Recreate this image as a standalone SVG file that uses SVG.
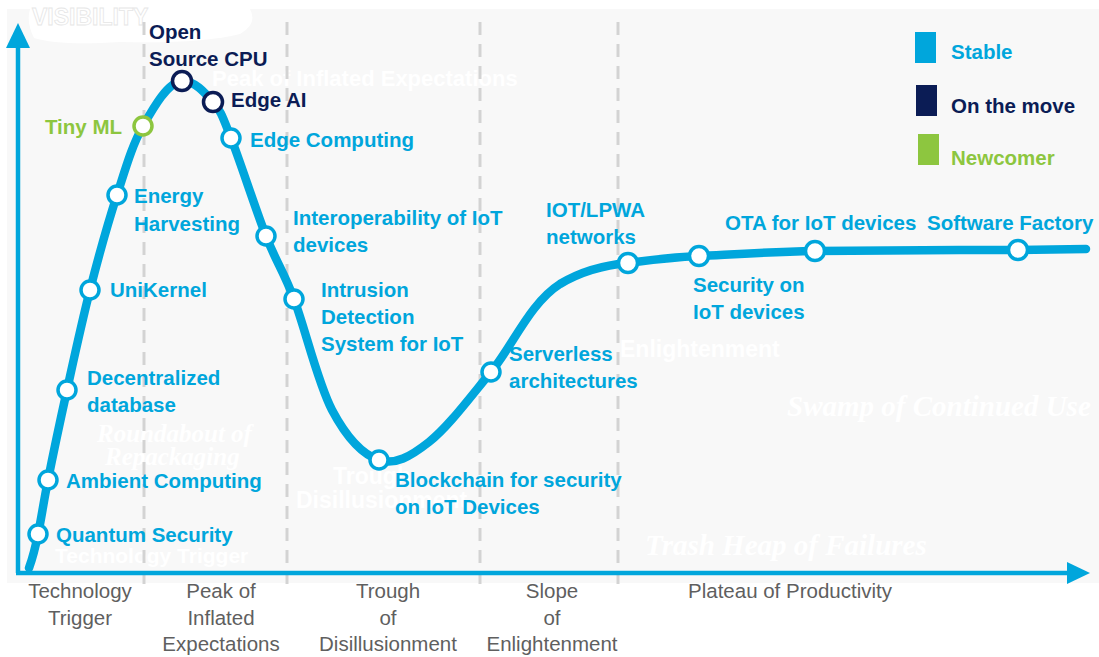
<svg xmlns="http://www.w3.org/2000/svg" width="1099" height="657" viewBox="0 0 1099 657">
  <defs>
    <style>
      .lbl{font-family:"Liberation Sans",Arial,sans-serif;font-weight:bold;font-size:20.5px}
      .s{fill:#00a6dc}
      .m{fill:#0b1c55}
      .n{fill:#8dc63f}
      .dot{fill:#ffffff;stroke-width:3.5}
      .ds{stroke:#00a6dc}
      .dm{stroke:#0b1c55}
      .dn{stroke:#8dc63f}
      .phase{font-family:"Liberation Sans",Arial,sans-serif;font-size:20.5px;fill:#5f5f5f;text-anchor:middle}
      .wm{font-family:"Liberation Sans",Arial,sans-serif;font-weight:bold;fill:#ffffff}
      .wms{font-family:"Liberation Serif","Times New Roman",serif;font-weight:bold;font-style:italic;fill:#ffffff}
      .dash{stroke:#d3d3d3;stroke-width:3;stroke-dasharray:13 9}
    </style>
  </defs>
  <rect x="0" y="0" width="1099" height="657" fill="#ffffff"/>
  <rect x="7" y="9" width="1092" height="574" fill="#f8f8f8"/>

  <g id="watermarks">
    <path d="M30 9 H250 Q258 24 240 34 Q200 44 120 42 Q60 46 34 38 Q26 22 30 9 Z" fill="#ffffff"/>
    <text class="wm" x="32" y="25" font-size="23" stroke="#e6e6e6" stroke-width="0.8">VISIBILITY</text>
    <text class="wm" x="212" y="86" font-size="22">Peak of Inflated Expectations</text>
    <text class="wm" x="620" y="357" font-size="23">Enlightenment</text>
    <text class="wms" x="787" y="416" font-size="29">Swamp of Continued Use</text>
    <text class="wms" x="645" y="555" font-size="29">Trash Heap of Failures</text>
    <text class="wms" x="97" y="442" font-size="25">Roundabout of</text>
    <text class="wms" x="105" y="465" font-size="25">Repackaging</text>
    <text class="wm" x="333" y="484" font-size="23">Trough</text>
    <text class="wm" x="296" y="508" font-size="23">Disillusionment</text>
    <text class="wm" x="55" y="563" font-size="21">Technology Trigger</text>
  </g>

  <g id="gridlines">
    <line class="dash" x1="144" y1="22" x2="144" y2="584"/>
    <line class="dash" x1="287" y1="22" x2="287" y2="584"/>
    <line class="dash" x1="480" y1="22" x2="480" y2="584"/>
    <line class="dash" x1="618" y1="22" x2="618" y2="584"/>
  </g>

  <g id="axes">
    <path d="M18 573 V46 M16 573 H1070" fill="none" stroke="#00a6dc" stroke-width="4.5"/>
    <polygon points="18,23 30,48 6,48" fill="#00a6dc"/>
    <polygon points="1090,573 1067,562 1067,584" fill="#00a6dc"/>
  </g>

  <g id="phases">
    <text class="phase" x="80" y="598">Technology</text>
    <text class="phase" x="80" y="625">Trigger</text>
    <text class="phase" x="221" y="598">Peak of</text>
    <text class="phase" x="221" y="625">Inflated</text>
    <text class="phase" x="221" y="651">Expectations</text>
    <text class="phase" x="388" y="598">Trough</text>
    <text class="phase" x="388" y="625">of</text>
    <text class="phase" x="388" y="651">Disillusionment</text>
    <text class="phase" x="552" y="598">Slope</text>
    <text class="phase" x="552" y="625">of</text>
    <text class="phase" x="552" y="651">Enlightenment</text>
    <text class="phase" x="790" y="598">Plateau of Productivity</text>
  </g>

  <g id="connectors">
    <path id="hype-curve" fill="none" stroke="#00a6dc" stroke-width="8.5" stroke-linecap="round"
      d="M29 568 C31.3 561.7 35 549.5 38 534
         C41 520.5 43.2 504.2 48 480
         C52.8 455.8 60 421.7 67 390
         C74 358.3 81.7 322.5 90 290
         C98.3 257.5 108.2 222.3 117 195
         C125.8 167.7 132.2 145 143 126
         C153.8 107 168 82 182 81
         C194 80 204.8 92.5 213 102
         C221.2 111.5 222.2 115.7 231 138
         C239.8 160.3 255.5 209.2 266 236
         C276.5 262.8 283 270 294 299
         C305 328 317.8 383.2 332 410
         C346.2 436.8 362.8 454.7 379 460
         C395.2 465.3 410.3 456.7 429 442
         C447.7 427.3 469.2 398.5 491 372
         C512.8 345.5 530 303 560 284
         C580 272 605 265 628 263
         C651.2 260 667.8 257.5 699 256
         C730.2 254.5 761.8 252 815 251
         C880 250.5 950 250 1018 250
         L1086 249"/>
  </g>

  <g id="legend">
    <rect x="915" y="32" width="21" height="31" fill="#00a6dc"/>
    <text class="lbl s" x="951" y="59">Stable</text>
    <rect x="916" y="85" width="21" height="31" fill="#0b1c55"/>
    <text class="lbl m" x="951" y="113">On the move</text>
    <rect x="918" y="134" width="21" height="31" fill="#8dc63f"/>
    <text class="lbl n" x="951" y="165">Newcomer</text>
  </g>

  <g id="node-quantum-security">
    <circle class="dot ds" cx="38" cy="534" r="9"/>
    <text class="lbl s" x="56" y="542">Quantum Security</text>
  </g>
  <g id="node-ambient-computing">
    <circle class="dot ds" cx="48" cy="480" r="9"/>
    <text class="lbl s" x="66" y="488">Ambient Computing</text>
  </g>
  <g id="node-decentralized-database">
    <circle class="dot ds" cx="67" cy="390" r="9"/>
    <text class="lbl s" x="87" y="385">Decentralized</text>
    <text class="lbl s" x="87" y="412">database</text>
  </g>
  <g id="node-unikernel">
    <circle class="dot ds" cx="90" cy="290" r="9"/>
    <text class="lbl s" x="110" y="297">UniKernel</text>
  </g>
  <g id="node-energy-harvesting">
    <circle class="dot ds" cx="117" cy="195" r="9"/>
    <text class="lbl s" x="134" y="203">Energy</text>
    <text class="lbl s" x="134" y="231">Harvesting</text>
  </g>
  <g id="node-tiny-ml">
    <circle class="dot dn" cx="143" cy="126" r="9"/>
    <text class="lbl n" x="122" y="134" text-anchor="end">Tiny ML</text>
  </g>
  <g id="node-open-source-cpu">
    <circle class="dot dm" cx="182" cy="81" r="9.5"/>
    <text class="lbl m" x="149" y="39">Open</text>
    <text class="lbl m" x="149" y="66">Source CPU</text>
  </g>
  <g id="node-edge-ai">
    <circle class="dot dm" cx="213" cy="102" r="9.5"/>
    <text class="lbl m" x="231" y="107">Edge AI</text>
  </g>
  <g id="node-edge-computing">
    <circle class="dot ds" cx="231" cy="138" r="9"/>
    <text class="lbl s" x="250" y="147">Edge Computing</text>
  </g>
  <g id="node-interoperability">
    <circle class="dot ds" cx="266" cy="236" r="9"/>
    <text class="lbl s" x="293" y="225">Interoperability of IoT</text>
    <text class="lbl s" x="293" y="252">devices</text>
  </g>
  <g id="node-intrusion-detection">
    <circle class="dot ds" cx="294" cy="299" r="9"/>
    <text class="lbl s" x="321" y="297">Intrusion</text>
    <text class="lbl s" x="321" y="324">Detection</text>
    <text class="lbl s" x="321" y="351">System for IoT</text>
  </g>
  <g id="node-blockchain">
    <circle class="dot ds" cx="379" cy="460" r="9"/>
    <text class="lbl s" x="395" y="487">Blockchain for security</text>
    <text class="lbl s" x="395" y="514">on IoT Devices</text>
  </g>
  <g id="node-serverless">
    <circle class="dot ds" cx="491" cy="372" r="9"/>
    <text class="lbl s" x="509" y="361">Serverless</text>
    <text class="lbl s" x="509" y="388">architectures</text>
  </g>
  <g id="node-iot-lpwa">
    <circle class="dot ds" cx="628" cy="263" r="9.5"/>
    <text class="lbl s" x="546" y="217">IOT/LPWA</text>
    <text class="lbl s" x="546" y="244">networks</text>
  </g>
  <g id="node-security-iot-devices">
    <circle class="dot ds" cx="699" cy="256" r="9.5"/>
    <text class="lbl s" x="693" y="292">Security on</text>
    <text class="lbl s" x="693" y="319">IoT devices</text>
  </g>
  <g id="node-ota">
    <circle class="dot ds" cx="815" cy="251" r="9.5"/>
    <text class="lbl s" x="725" y="230">OTA for IoT devices</text>
  </g>
  <g id="node-software-factory">
    <circle class="dot ds" cx="1018" cy="250" r="9.5"/>
    <text class="lbl s" x="927" y="230">Software Factory</text>
  </g>
</svg>
